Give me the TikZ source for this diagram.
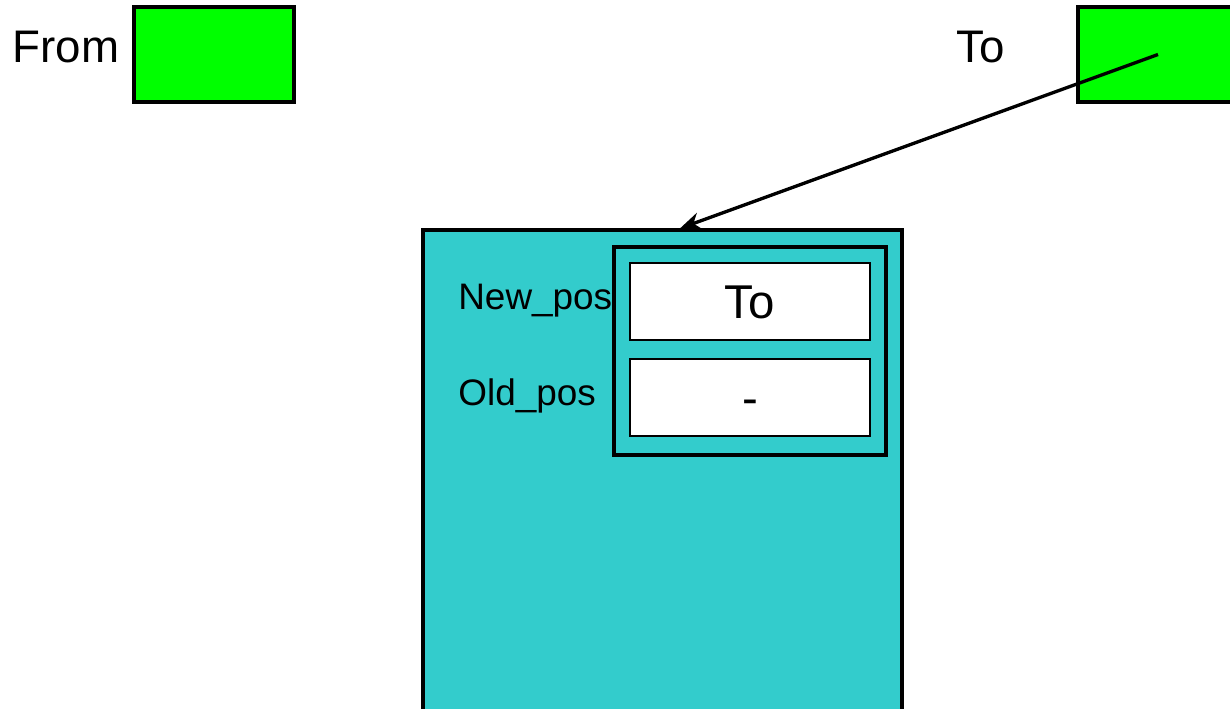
\documentclass[tikz,border=0pt]{standalone}
\usepackage{fontspec}
\setmainfont{Liberation Sans}
\definecolor{boxgreen}{RGB}{0,255,0}
\definecolor{boxteal}{RGB}{51,204,204}
\usetikzlibrary{arrows.meta,positioning}

\begin{document}
\begin{tikzpicture}[x=0.02cm, y=-0.02cm,
  greenbox/.style={draw=black, fill=boxgreen, line width=1.9pt, minimum width=3.2cm, minimum height=1.9cm},
  fieldbox/.style={draw=black, fill=white, line width=1.1pt, minimum width=4.8cm, minimum height=1.54cm, text height=19.5pt, text depth=0pt, font=\fontsize{27}{30}\selectfont},
  biglabel/.style={inner sep=0pt, font=\fontsize{26}{30}\selectfont},
  fieldlabel/.style={inner sep=0pt, anchor=base west, font=\fontsize{21}{25}\selectfont}]
  \clip (0,0) rectangle (1230,709);
  \useasboundingbox (0,0) rectangle (1230,709);

  %% From / To boxes (top)
  \node[greenbox] (frombox) at (214,54.5) {};
  \node[biglabel] (fromlabel) at (66,47) {From};
  \node[greenbox] (tobox) at (1158,54.5) {};
  \node[biglabel] (tolabel) at (981,47) {To};

  %% Record (big teal box)
  \node[draw=black, fill=boxteal, line width=1.9pt, minimum width=9.58cm, minimum height=10.6cm] (record) at (662.5,495) {};
  \node[draw=black, fill=boxteal, line width=1.9pt, minimum width=5.44cm, minimum height=4.16cm] (pair) at (750,351) {};
  \node[fieldbox] (newfield) at (750,301.5) {To};
  \node[fieldbox] (oldfield) at (750,397.5) {-};
  \node[fieldlabel] (newlabel) at (458,310) {New\_pos};
  \node[fieldlabel] (oldlabel) at (458,405) {Old\_pos};

  \draw[-{Stealth[length=12pt, width=10pt]}, line width=1.9pt] (tobox.center) -- ([xshift=0.35cm]record.north);
\end{tikzpicture}
\end{document}
